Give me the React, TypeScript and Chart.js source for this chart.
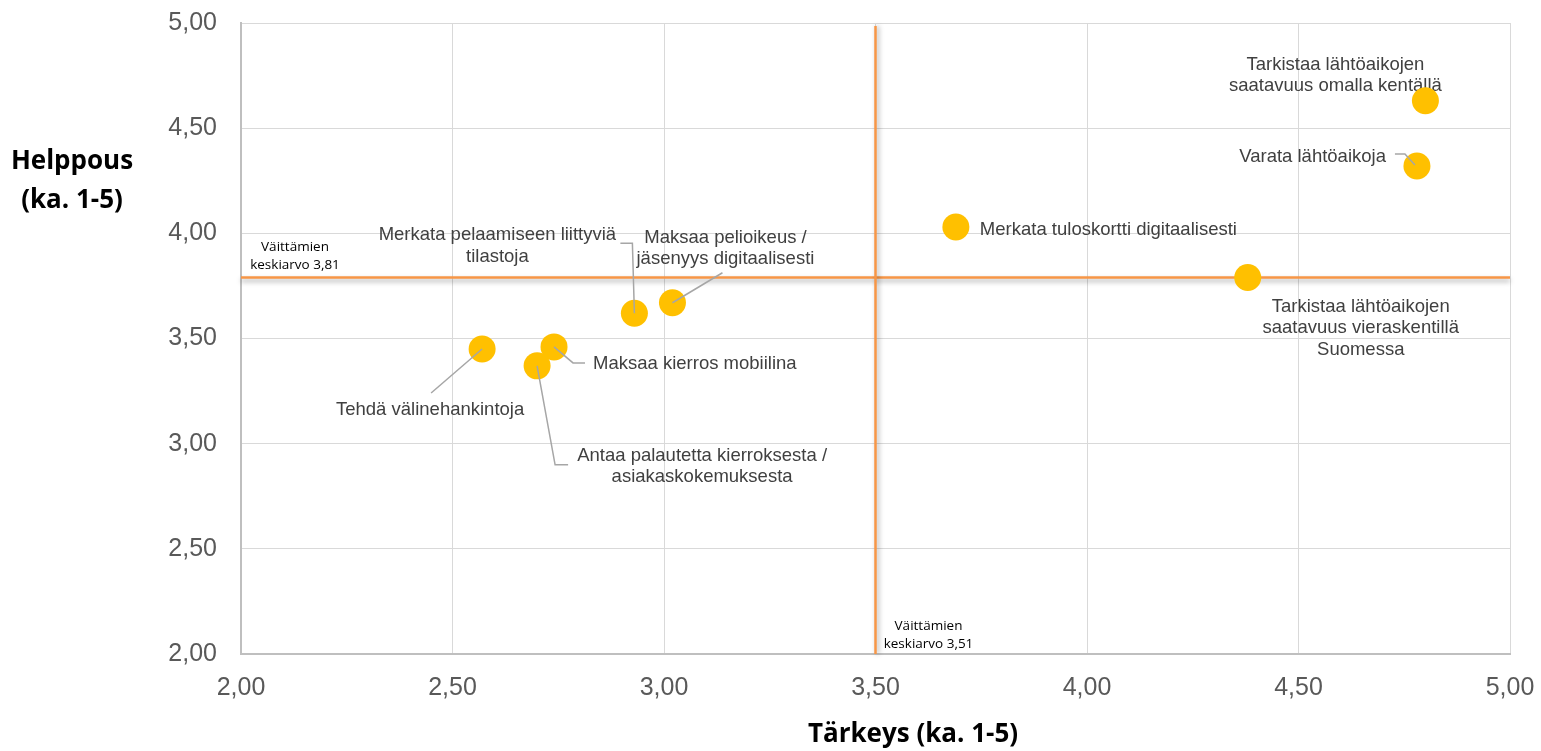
import React, { useEffect, useRef } from "react";
import { Chart, registerables } from "chart.js";

Chart.register(...registerables);

// ---- Data ----
const categories: string[][] = [
  ["Tarkistaa lähtöaikojen", "saatavuus omalla kentällä"],
  ["Varata lähtöaikoja"],
  ["Merkata tuloskortti digitaalisesti"],
  ["Tarkistaa lähtöaikojen", "saatavuus vieraskentillä", "Suomessa"],
  ["Maksaa pelioikeus /", "jäsenyys digitaalisesti"],
  ["Merkata pelaamiseen liittyviä", "tilastoja"],
  ["Maksaa kierros mobiilina"],
  ["Tehdä välinehankintoja"],
  ["Antaa palautetta kierroksesta /", "asiakaskokemuksesta"],
];
const importance: number[] = [4.8, 4.78, 3.69, 4.38, 3.02, 2.93, 2.74, 2.57, 2.7];
const ease: number[] = [4.63, 4.32, 4.03, 3.79, 3.67, 3.62, 3.46, 3.45, 3.37];

const avgImportanceLine = 3.5;
const avgEaseLine = 3.79;
const avgImportanceLabel: string[] = ["Väittämien", "keskiarvo 3,51"];
const avgEaseLabel: string[] = ["Väittämien", "keskiarvo 3,81"];

const xTitle = "Tärkeys (ka. 1-5)";
const yTitle: string[] = ["Helppous", "(ka. 1-5)"];
const axisMin = 2;
const axisMax = 5;
const axisStep = 0.5;

// ---- Label layout (pixel offsets relative to each point) ----
type LabelCfg = { dx: number; dy: number; align: CanvasTextAlign; leader?: [number, number][] };
const labelLayout: LabelCfg[] = [
  { dx: -90, dy: -36, align: "center" },
  { dx: -31, dy: -9, align: "right", leader: [[-22, -12], [-12, -12], [-2, -1]] },
  { dx: 24, dy: 3, align: "left" },
  { dx: 113, dy: 29, align: "center" },
  { dx: 53, dy: -65, align: "center", leader: [[50, -30], [0, 0]] },
  { dx: -137, dy: -78, align: "center", leader: [[-14, -70], [-2, -70], [0, 0]] },
  { dx: 39, dy: 17, align: "left", leader: [[31, 16], [19, 16], [0, 0]] },
  { dx: -52, dy: 61, align: "center", leader: [[-51, 44], [0, 0]] },
  { dx: 165, dy: 90, align: "center", leader: [[31, 99], [18, 99], [0, 0]] },
];

const LINE_H = 21.5;
const ORANGE = "#F79646";

const fmt = (v: number) => v.toFixed(2).replace(".", ",");

const overlayPlugin = {
  id: "overlay",
  beforeDatasetsDraw(chart: any) {
    const { ctx, chartArea: a, scales } = chart;
    const xs = scales.x;
    const ys = scales.y;
    ctx.save();
    const vx = xs.getPixelForValue(avgImportanceLine);
    const hy = ys.getPixelForValue(avgEaseLine);
    ctx.strokeStyle = ORANGE;
    ctx.lineWidth = 2.5;
    ctx.shadowColor = "rgba(0,0,0,0.35)";
    ctx.shadowBlur = 5;
    ctx.shadowOffsetX = 0;
    ctx.shadowOffsetY = 3;
    ctx.beginPath();
    ctx.moveTo(a.left, hy);
    ctx.lineTo(a.right, hy);
    ctx.stroke();
    ctx.shadowOffsetY = 0;
    ctx.shadowOffsetX = 2;
    ctx.beginPath();
    ctx.moveTo(vx, a.top + 3);
    ctx.lineTo(vx, a.bottom);
    ctx.stroke();
    ctx.restore();

    ctx.save();
    ctx.fillStyle = "#000000";
    ctx.font = "13.5px 'Open Sans', 'Noto Sans', sans-serif";
    ctx.textAlign = "center";
    ctx.textBaseline = "middle";
    avgEaseLabel.forEach((t, i) => ctx.fillText(t, a.left + 54, hy - 30 + i * 18));
    avgImportanceLabel.forEach((t, i) => ctx.fillText(t, vx + 53, a.bottom - 28 + i * 18));

    ctx.fillStyle = "#404040";
    ctx.font = "18.5px 'Liberation Sans', Arial, sans-serif";
    const meta = chart.getDatasetMeta(0);
    meta.data.forEach((pt: any, i: number) => {
      const cfg = labelLayout[i];
      ctx.textAlign = cfg.align;
      categories[i].forEach((line, j) => {
        ctx.fillText(line, pt.x + cfg.dx, pt.y + cfg.dy + j * LINE_H);
      });
    });
    ctx.restore();
  },
  afterDatasetsDraw(chart: any) {
    const { ctx } = chart;
    const meta = chart.getDatasetMeta(0);
    ctx.save();
    ctx.strokeStyle = "#A6A6A6";
    ctx.lineWidth = 1.5;
    meta.data.forEach((pt: any, i: number) => {
      const cfg = labelLayout[i];
      if (!cfg.leader) return;
      ctx.beginPath();
      cfg.leader.forEach(([dx, dy], k) => {
        if (k === 0) ctx.moveTo(pt.x + dx, pt.y + dy);
        else ctx.lineTo(pt.x + dx, pt.y + dy);
      });
      ctx.stroke();
    });
    ctx.restore();
  },
  afterDraw(chart: any) {
    const { ctx } = chart;
    ctx.save();
    ctx.fillStyle = "#000000";
    ctx.font = "bold 26px 'Open Sans', 'Noto Sans', sans-serif";
    ctx.textAlign = "center";
    ctx.textBaseline = "middle";
    yTitle.forEach((t, i) => ctx.fillText(t, 72, 162 + i * 39));
    ctx.fillText(xTitle, 913, 735);
    ctx.restore();
  },
};

export default function App() {
  const ref = useRef<HTMLCanvasElement | null>(null);
  useEffect(() => {
    if (!ref.current) return;
    const points = importance.map((x, i) => ({ x, y: ease[i] }));
    const chart = new Chart(ref.current, {
      type: "scatter",
      data: {
        datasets: [
          {
            label: "Väittämät",
            data: points,
            backgroundColor: "#FFC000",
            borderColor: "#FFC000",
            pointRadius: 13.5,
            pointHoverRadius: 13.5,
            borderWidth: 0,
          },
        ],
      },
      options: {
        animation: false,
        responsive: true,
        maintainAspectRatio: false,
        layout: { padding: { top: 23, right: 31, left: 0, bottom: 0 } },
        plugins: { legend: { display: false }, tooltip: { enabled: false } },
        scales: {
          x: {
            type: "linear",
            min: axisMin,
            max: axisMax,
            afterFit: (s: any) => {
              s.height = 97;
              s.paddingLeft = 0;
              s.paddingRight = 0;
            },
            ticks: {
              stepSize: axisStep,
              padding: 19,
              color: "#595959",
              font: { family: "'Liberation Sans', Arial, sans-serif", size: 25 },
              callback: (v: any) => fmt(Number(v)),
              maxRotation: 0,
            },
            grid: { color: "#D9D9D9", lineWidth: 1, drawTicks: false },
            border: { color: "#BFBFBF", width: 2 },
          },
          y: {
            type: "linear",
            min: axisMin,
            max: axisMax,
            afterFit: (s: any) => {
              s.width = 241;
              s.paddingTop = 0;
              s.paddingBottom = 0;
            },
            ticks: {
              stepSize: axisStep,
              padding: 24,
              color: "#595959",
              font: { family: "'Liberation Sans', Arial, sans-serif", size: 25 },
              callback: (v: any) => fmt(Number(v)),
            },
            grid: { color: "#D9D9D9", lineWidth: 1, drawTicks: false },
            border: { color: "#BFBFBF", width: 2 },
          },
        },
      },
      plugins: [overlayPlugin],
    });
    return () => chart.destroy();
  }, []);
  return (
    <div style={{ position: "fixed", left: 0, top: 0, width: 1541, height: 751, background: "#fff" }}>
      <canvas ref={ref} />
    </div>
  );
}
